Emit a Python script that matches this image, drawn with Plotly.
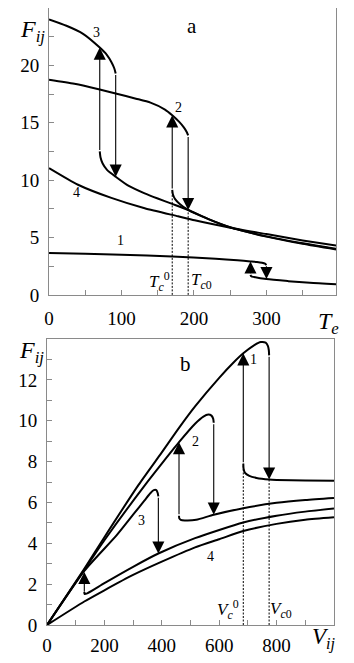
import plotly.graph_objects as go
from plotly.subplots import make_subplots

# ---- panel a: F_ij vs T_e ----
a1_up_T = [0, 50, 100, 170, 230, 260, 278, 287, 294, 298, 300]
a1_up_F = [3.65, 3.58, 3.5, 3.35, 3.15, 3.02, 2.92, 2.87, 2.8, 2.72, 2.6]
a1_lo_T = [278, 279, 283, 300, 330, 360, 396]
a1_lo_F = [1.75, 1.62, 1.56, 1.38, 1.2, 1.05, 0.93]

a2_up_T = [0, 35, 70, 92, 120, 140, 160, 170, 180, 186, 190, 192]
a2_up_F = [18.75, 18.4, 17.9, 17.55, 17.1, 16.75, 16.15, 15.65, 15.05, 14.6, 14.2, 13.9]
a2_lo_T = [170, 171, 174, 180, 192, 220, 250, 300, 350, 396]
a2_lo_F = [9.15, 8.75, 8.35, 7.95, 7.4, 6.6, 5.9, 5.1, 4.5, 4.02]

a3_up_T = [0, 24, 47, 70, 80, 86, 90, 92]
a3_up_F = [24.0, 23.45, 22.75, 21.55, 20.9, 20.3, 19.75, 19.3]
a3_lo_T = [70, 71, 74, 80, 92, 110, 132, 150, 169, 192, 220, 250, 300, 350, 396]
a3_lo_F = [12.5, 12.0, 11.45, 10.9, 10.3, 9.5, 8.85, 8.4, 7.95, 7.4, 6.6, 5.88, 5.08, 4.45, 3.96]

a4_T = [0, 40, 86, 132, 178, 201, 250, 300, 350, 396]
a4_F = [11.05, 9.6, 8.45, 7.55, 6.85, 6.5, 5.85, 5.3, 4.75, 4.3]

# jumps: x, from, to
a_jump_x = [70, 92, 170, 192, 278, 300]
a_jump_from = [12.5, 19.3, 9.15, 13.9, 1.75, 2.62]
a_jump_to = [21.55, 10.3, 15.65, 7.4, 2.92, 1.38]

a_crit_x = [170, 192]
a_crit_top = [9.15, 7.4]

# ---- panel b: F_ij vs V_ij ----
b1_up_V = [0, 130, 200, 319, 400, 460, 516, 600, 650, 684, 720, 745, 762, 770, 773, 774]
b1_up_F = [0, 2.75, 4.3, 6.86, 8.45, 9.65, 10.7, 12.1, 12.85, 13.3, 13.68, 13.85, 13.82, 13.65, 13.45, 13.2]
b1_lo_V = [684, 685, 690, 705, 730, 774, 800, 900, 1000]
b1_lo_F = [7.9, 7.65, 7.45, 7.3, 7.2, 7.12, 7.1, 7.08, 7.06]

b2_up_V = [0, 130, 200, 342, 400, 460, 516, 545, 562, 573, 579, 581]
b2_up_F = [0, 2.7, 4.15, 6.86, 7.9, 8.95, 9.85, 10.2, 10.3, 10.25, 10.1, 9.9]
b2_lo_V = [460, 461, 466, 480, 520, 581, 684, 800, 900, 1000]
b2_lo_F = [5.35, 5.22, 5.15, 5.12, 5.15, 5.4, 5.72, 5.98, 6.12, 6.22]

b3_up_V = [0, 130, 243, 300, 340, 360, 372, 381, 386, 388]
b3_up_F = [0, 2.65, 4.4, 5.4, 6.1, 6.45, 6.6, 6.6, 6.45, 6.3]
b3_lo_V = [130, 131, 140, 200, 300, 388, 516, 684, 800, 900, 1000]
b3_lo_F = [1.62, 1.52, 1.55, 2.05, 2.85, 3.5, 4.25, 5.02, 5.35, 5.55, 5.7]

b4_V = [0, 130, 200, 300, 400, 516, 600, 684, 800, 900, 1000]
b4_F = [0, 1.15, 1.7, 2.45, 3.1, 3.8, 4.2, 4.6, 4.95, 5.15, 5.27]

b_jump_x = [130, 388, 460, 581, 684, 774]
b_jump_from = [1.55, 6.3, 5.35, 9.9, 7.9, 13.2]
b_jump_to = [2.6, 3.5, 8.95, 5.4, 13.3, 7.12]

b_crit_x = [684, 774]
b_crit_top = [7.9, 7.12]

SERIF = "Liberation Serif, Times New Roman, serif"

fig = make_subplots(rows=2, cols=1)

def curve(x, y, row):
    fig.add_trace(go.Scatter(x=x, y=y, mode="lines", line=dict(color="black", width=2, shape="spline", smoothing=0.6),
                             showlegend=False, hoverinfo="skip"), row=row, col=1)

for x, y in [(a1_up_T, a1_up_F), (a1_lo_T, a1_lo_F), (a2_up_T, a2_up_F), (a2_lo_T, a2_lo_F),
             (a3_up_T, a3_up_F), (a3_lo_T, a3_lo_F), (a4_T, a4_F)]:
    curve(x, y, 1)
for x, y in [(b1_up_V, b1_up_F), (b1_lo_V, b1_lo_F), (b2_up_V, b2_up_F), (b2_lo_V, b2_lo_F),
             (b3_up_V, b3_up_F), (b3_lo_V, b3_lo_F), (b4_V, b4_F)]:
    curve(x, y, 2)

# dotted critical lines
for row, xs, tops in [(1, a_crit_x, a_crit_top), (2, b_crit_x, b_crit_top)]:
    for xv, top in zip(xs, tops):
        fig.add_trace(go.Scatter(x=[xv, xv], y=[0, top], mode="lines",
                                 line=dict(color="black", width=1, dash="2px,1.5px"),
                                 showlegend=False, hoverinfo="skip"), row=row, col=1)

anns = []

# jump arrows, head at the end of the jump
for xr, yr, xs, y0s, y1s in [("x", "y", a_jump_x, a_jump_from, a_jump_to),
                             ("x2", "y2", b_jump_x, b_jump_from, b_jump_to)]:
    for xv, y0, y1 in zip(xs, y0s, y1s):
        anns.append(dict(x=xv, y=y1, ax=xv, ay=y0, xref=xr, yref=yr, axref=xr, ayref=yr,
                         showarrow=True, arrowhead=2, arrowsize=2.2, arrowwidth=1.1,
                         arrowcolor="black", standoff=0, text=""))

def label(x, y, text, xr, yr, size=14):
    anns.append(dict(x=x, y=y, xref=xr, yref=yr, text=text, showarrow=False,
                     xanchor="center", yanchor="middle",
                     font=dict(family=SERIF, size=size, color="black")))

# panel a texts
label(65, 22.9, "3", "x", "y")
label(178, 16.3, "2", "x", "y")
label(38, 8.9, "4", "x", "y")
label(98, 4.75, "1", "x", "y")
label(197, 23.4, "a", "x", "y", size=21)
label(153, 1.2, "<i>T</i><sub><i>c</i></sub><sup>0</sup>", "x", "y", size=17)
label(211, 1.2, "<i>T</i><sub><i>c</i>0</sub>", "x", "y", size=17)
label(-0.05, 0.962, "<i>F</i><sub><i>ij</i></sub>", "paper", "paper", size=24)
label(0.975, 0.49, "<i>T</i><sub><i>e</i></sub>", "paper", "paper", size=24)

# panel b texts
label(721, 13.0, "1", "x2", "y2")
label(519, 9.0, "2", "x2", "y2")
label(330, 5.1, "3", "x2", "y2")
label(568, 3.35, "4", "x2", "y2")
label(481, 12.8, "b", "x2", "y2", size=21)
label(631, 0.75, "<i>V</i><sub><i>c</i></sub><sup>0</sup>", "x2", "y2", size=17)
label(815, 0.75, "<i>V</i><sub><i>c</i>0</sub>", "x2", "y2", size=17)
label(-0.052, 0.442, "<i>F</i><sub><i>ij</i></sub>", "paper", "paper", size=24)
label(0.96, -0.022, "<i>V</i><sub><i>ij</i></sub>", "paper", "paper", size=23)

axis_common = dict(showgrid=False, zeroline=False, showline=True, linecolor="#8a8a8a", linewidth=1,
                   mirror=True, ticks="inside", ticklen=5, tickcolor="#8a8a8a", tickwidth=1,
                   automargin=False,
                   tickfont=dict(family=SERIF, size=19, color="black"))

# the page body has an 8px margin, so the figure is sized to fit inside the window
fig.update_layout(
    template="none",
    width=338, height=647,
    margin=dict(l=39, r=10, t=0, b=30, autoexpand=False),
    plot_bgcolor="white", paper_bgcolor="white",
    font=dict(family=SERIF, color="black"),
    showlegend=False,
    annotations=anns,
    xaxis=dict(axis_common, domain=[0.007, 1.0], range=[0, 396], tickvals=[0, 100, 200, 300],
               minor=dict(dtick=50, ticks="inside", ticklen=5, tickcolor="#8a8a8a"),
               ticklabelstandoff=6),
    yaxis=dict(axis_common, domain=[0.535, 1.0], range=[0, 25], tickvals=[0, 5, 10, 15, 20],
               minor=dict(dtick=2.5, ticks="inside", ticklen=5, tickcolor="#8a8a8a"),
               ticklabelstandoff=5),
    xaxis2=dict(axis_common, domain=[0.0, 0.993], range=[0, 1000], tickvals=[0, 200, 400, 600, 800],
                minor=dict(dtick=100, ticks="inside", ticklen=5, tickcolor="#8a8a8a"),
                ticklabelstandoff=3),
    yaxis2=dict(axis_common, domain=[0.0, 0.4635], range=[0, 14], tickvals=[0, 2, 4, 6, 8, 10, 12],
                minor=dict(dtick=1, ticks="inside", ticklen=5, tickcolor="#8a8a8a"),
                ticklabelstandoff=5),
)

fig.write_html("out.html")
